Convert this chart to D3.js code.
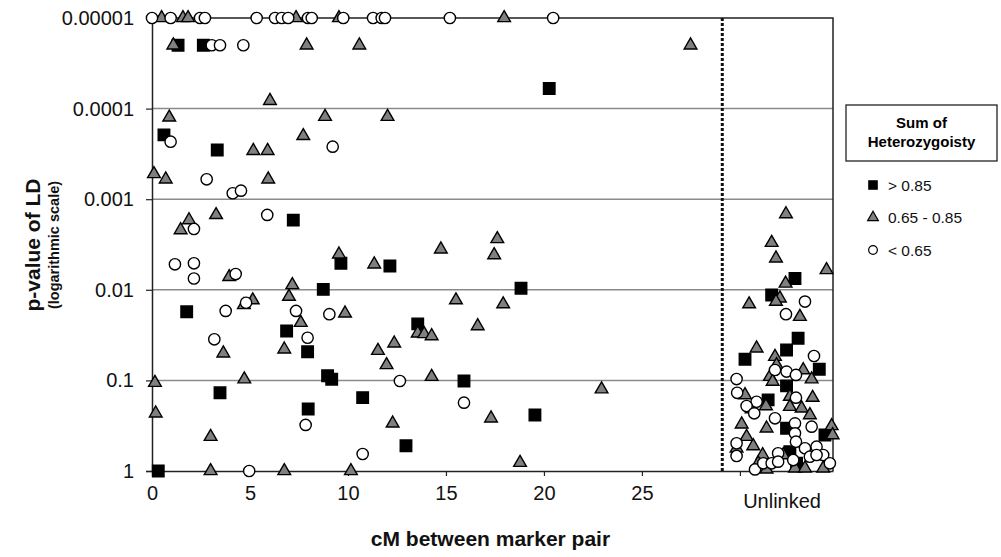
<!DOCTYPE html>
<html>
<head>
<meta charset="utf-8">
<script src="https://cdn.jsdelivr.net/npm/d3@7"></script>
<style>
  body { margin: 0; background: #fff; }
  svg { font-family: Arial, "Liberation Sans", sans-serif; }
</style>
</head>
<body>
<script>
// ---- data: cM distance and LD p-value per heterozygosity group ----
// linked pairs
const highCM = [1.33, 2.62, 20.27, 0.61, 3.33, 7.21, 9.64, 12.14, 18.83, 8.74, 1.77, 13.56, 6.87, 7.94, 8.96, 9.17, 3.47, 10.75, 7.97, 15.92, 19.54, 12.96, 0.32]
const highP = [2e-5, 2e-5, 6e-5, 1.95e-4, 2.86e-4, 1.7e-3, 5.1e-3, 5.46e-3, 9.6e-3, 9.9e-3, 1.75e-2, 2.38e-2, 2.85e-2, 4.82e-2, 8.9e-2, 9.7e-2, 0.137, 0.155, 0.207, 0.1016, 0.241, 0.526, 1]

const midCM = [0.49, 1.58, 1.84, 7.35, 9.54, 17.97, 1.09, 7.89, 10.58, 27.48, 6.02, 0.88, 8.83, 12.02, 7.72, 5.17, 5.90, 0.10, 0.70, 5.93, 3.27, 1.89, 1.46, 3.94, 9.54, 11.34, 7.16, 6.99, 5.14, 4.69, 9.85, 14.74, 17.62, 17.46, 15.51, 17.92, 13.56, 13.89, 14.27, 16.62, 12.36, 11.53, 11.97, 7.59, 3.64, 6.75, 0.15, 4.71, 14.27, 22.94, 0.19, 12.28, 17.30, 2.99, 18.78, 2.99, 6.75, 10.15]
const midP = [1e-5, 1e-5, 1e-5, 1e-5, 1e-5, 1e-5, 2e-5, 2e-5, 2e-5, 2e-5, 8.2e-5, 1.25e-4, 1.23e-4, 1.23e-4, 2e-4, 2.92e-4, 2.92e-4, 5.27e-4, 6.03e-4, 6.03e-4, 1.49e-3, 1.7e-3, 2.19e-3, 7.2e-3, 4.06e-3, 5.23e-3, 8.85e-3, 1.19e-2, 1.3e-2, 1.47e-2, 1.82e-2, 3.57e-3, 2.75e-3, 4.13e-3, 1.3e-2, 1.44e-2, 3.02e-2, 3.07e-2, 3.24e-2, 2.51e-2, 3.9e-2, 4.7e-2, 6.76e-2, 2.31e-2, 5.02e-2, 4.54e-2, 0.106, 9.7e-2, 9.1e-2, 0.125, 0.231, 0.298, 0.262, 0.418, 0.809, 1, 1, 1]

const lowCM = [0, 0.95, 2.45, 2.70, 5.34, 6.28, 6.62, 6.95, 7.96, 8.15, 9.76, 11.28, 11.72, 11.89, 15.20, 20.47, 3.05, 3.47, 4.66, 0.95, 9.22, 2.79, 4.12, 4.54, 2.14, 5.88, 1.17, 2.14, 2.14, 4.27, 4.80, 3.76, 7.35, 9.05, 3.18, 7.94, 12.65, 7.84, 15.92, 10.75, 4.96]
const lowP = [1e-5, 1e-5, 1e-5, 1e-5, 1e-5, 1e-5, 1e-5, 1e-5, 1e-5, 1e-5, 1e-5, 1e-5, 1e-5, 1e-5, 1e-5, 1e-5, 2e-5, 2e-5, 2e-5, 2.32e-4, 2.63e-4, 6.03e-4, 8.6e-4, 8.05e-4, 2.13e-3, 1.49e-3, 5.23e-3, 5.1e-3, 7.5e-3, 6.7e-3, 1.39e-2, 1.71e-2, 1.71e-2, 1.86e-2, 3.52e-2, 3.38e-2, 0.1016, 0.31, 0.176, 0.649, 1]

// unlinked pairs (spread across the "Unlinked" column)
const highUnX = [32.81, 31.62, 32.97, 32.38, 30.26, 34.05, 32.38, 31.44, 32.38, 34.34, 32.55, 32.89]
const highUnP = [7.5e-3, 1.14e-2, 3.43e-2, 4.62e-2, 5.85e-2, 7.54e-2, 0.115, 0.164, 0.338, 0.401, 0.612, 0.822]

const midUnX = [32.35, 31.62, 31.84, 34.42, 32.33, 32.04, 31.84, 30.47, 33.06, 30.85, 31.79, 31.87, 31.53, 31.67, 33.23, 33.66, 30.26, 32.55, 33.71, 30.60, 31.33, 32.55, 33.15, 33.57, 30.09, 31.36, 34.68, 34.73, 30.34, 30.68, 29.83, 32.21, 31.16, 30.93, 32.81, 33.32, 34.25, 31.36]
const midUnP = [1.46e-3, 3.02e-3, 4.49e-3, 6.04e-3, 8.5e-3, 1.24e-2, 1.35e-2, 1.44e-2, 1.98e-2, 4.42e-2, 5.47e-2, 6.76e-2, 9.1e-2, 0.103, 7.68e-2, 9.7e-2, 0.145, 0.151, 0.155, 0.208, 0.192, 0.195, 0.203, 0.241, 0.305, 0.338, 0.318, 0.401, 0.418, 0.53, 0.561, 0.666, 0.666, 0.822, 0.933, 0.933, 0.933, 0.96]

const lowUnX = [33.32, 32.35, 33.78, 31.79, 32.38, 32.86, 29.83, 29.86, 32.86, 30.85, 30.34, 30.73, 31.79, 32.81, 33.66, 32.81, 29.83, 32.86, 33.91, 33.32, 31.95, 29.83, 34.25, 32.72, 33.57, 33.91, 34.59, 30.77, 31.19, 31.62, 31.95]
const lowUnP = [1.35e-2, 1.86e-2, 5.38e-2, 7.68e-2, 8.0e-2, 8.7e-2, 9.66e-2, 0.137, 0.155, 0.172, 0.192, 0.231, 0.262, 0.298, 0.324, 0.384, 0.494, 0.475, 0.539, 0.561, 0.638, 0.682, 0.666, 0.757, 0.695, 0.666, 0.822, 0.96, 0.822, 0.822, 0.789]

const yTicks = [1e-5, 1e-4, 1e-3, 1e-2, 1e-1, 1]
const yTickLabels = ["0.00001", "0.0001", "0.001", "0.01", "0.1", "1"]
const xTicks = [0, 5, 10, 15, 20, 25, 30]
const xTickLabels = ["0", "5", "10", "15", "20", "25", ""]
const unlinkedLabel = "Unlinked"
const unlinkedBoundary = 29.1
const legendLabels = ["> 0.85", "0.65 - 0.85", "< 0.65"]

// ---- layout ----
const width = 1001, height = 557
const plot = { left: 152, right: 833, top: 18, bottom: 471 }

const x = d3.scaleLinear().domain([0, 34.75]).range([plot.left, plot.right])
const y = d3.scaleLog().domain([1e-5, 1]).range([plot.top, plot.bottom])

const svg = d3.select("body").append("svg")
  .attr("width", width)
  .attr("height", height)

// gridlines
svg.append("g")
  .selectAll("line")
  .data(yTicks.slice(1, -1))
  .join("line")
  .attr("x1", plot.left).attr("x2", plot.right)
  .attr("y1", d => y(d)).attr("y2", d => y(d))
  .attr("stroke", "#8a8a8a")
  .attr("stroke-width", 1.5)

// frame (top and right)
svg.append("path")
  .attr("d", `M${plot.left},${plot.top}H${plot.right}V${plot.bottom}`)
  .attr("fill", "none")
  .attr("stroke", "#222")
  .attr("stroke-width", 1.5)

// y axis
const yAxis = svg.append("g")
  .attr("transform", `translate(${plot.left},0)`)
  .call(d3.axisLeft(y).tickValues(yTicks).tickFormat((d, i) => yTickLabels[i]).tickSize(6).tickPadding(12))
yAxis.select(".domain").attr("stroke", "#222").attr("stroke-width", 1.5)
yAxis.selectAll(".tick line").attr("stroke", "#222").attr("stroke-width", 1.2)
yAxis.selectAll(".tick text")
  .attr("font-size", 20)
  .attr("font-family", "Arial, 'Liberation Sans', sans-serif")
  .attr("fill", "#111")

// x axis
const xAxis = svg.append("g")
  .attr("transform", `translate(0,${plot.bottom})`)
  .call(d3.axisBottom(x).tickValues(xTicks).tickFormat((d, i) => xTickLabels[i]).tickSize(5).tickPadding(10).tickSizeOuter(0))
xAxis.select(".domain").attr("stroke", "#222").attr("stroke-width", 1.5)
xAxis.selectAll(".tick line").attr("stroke", "#222").attr("stroke-width", 1.2)
xAxis.selectAll(".tick text")
  .attr("font-size", 20)
  .attr("font-family", "Arial, 'Liberation Sans', sans-serif")
  .attr("fill", "#111")

svg.append("text")
  .attr("x", x(32.15)).attr("y", plot.bottom + 37)
  .attr("text-anchor", "middle")
  .attr("font-size", 20)
  .attr("fill", "#111")
  .text(unlinkedLabel)

// linked / unlinked divider
svg.append("line")
  .attr("x1", x(unlinkedBoundary)).attr("x2", x(unlinkedBoundary))
  .attr("y1", plot.top).attr("y2", plot.bottom)
  .attr("stroke", "#111")
  .attr("stroke-width", 3)
  .attr("stroke-dasharray", "3,2")

// axis titles
svg.append("text")
  .attr("x", (plot.left + plot.right) / 2 - 2).attr("y", 546)
  .attr("text-anchor", "middle")
  .attr("font-size", 21)
  .attr("font-weight", "bold")
  .attr("fill", "#111")
  .text("cM between marker pair")

svg.append("text")
  .attr("transform", "translate(40,245) rotate(-90)")
  .attr("text-anchor", "middle")
  .attr("font-size", 21)
  .attr("font-weight", "bold")
  .attr("fill", "#111")
  .text("p-value of LD")

svg.append("text")
  .attr("transform", "translate(59,245) rotate(-90)")
  .attr("text-anchor", "middle")
  .attr("font-size", 14.5)
  .attr("font-weight", "bold")
  .attr("fill", "#111")
  .text("(logarithmic scale)")

// ---- markers ----
const styles = [
  { type: d3.symbolSquare, size: 132, fill: "#000", stroke: "#000" },
  { type: d3.symbolTriangle, size: 70, fill: "#808080", stroke: "#000" },
  { type: d3.symbolCircle, size: 100, fill: "#fff", stroke: "#000" }
]
const groups = [
  { xs: highCM.concat(highUnX), ps: highP.concat(highUnP), style: styles[0] },
  { xs: midCM.concat(midUnX), ps: midP.concat(midUnP), style: styles[1] },
  { xs: lowCM.concat(lowUnX), ps: lowP.concat(lowUnP), style: styles[2] }
]

groups.forEach(g => {
  const pts = g.xs.map((v, i) => ({ cm: v, p: g.ps[i] }))
  svg.append("g")
    .selectAll("path")
    .data(pts)
    .join("path")
    .attr("transform", d => `translate(${x(d.cm)},${y(d.p)})`)
    .attr("d", d3.symbol().type(g.style.type).size(g.style.size))
    .attr("fill", g.style.fill)
    .attr("stroke", g.style.stroke)
    .attr("stroke-width", 1.4)
})

// ---- legend ----
const legend = svg.append("g")
legend.append("rect")
  .attr("x", 846).attr("y", 105)
  .attr("width", 151).attr("height", 56)
  .attr("fill", "#fff")
  .attr("stroke", "#222")
  .attr("stroke-width", 1.3)
legend.append("text")
  .attr("x", 921.5).attr("y", 128)
  .attr("text-anchor", "middle")
  .attr("font-size", 15)
  .attr("font-weight", "bold")
  .text("Sum of")
legend.append("text")
  .attr("x", 921.5).attr("y", 147)
  .attr("text-anchor", "middle")
  .attr("font-size", 15)
  .attr("font-weight", "bold")
  .text("Heterozygoisty")

const legendSizes = [70, 50, 60]
legendLabels.forEach((label, i) => {
  const ly = 185 + i * 32.5
  legend.append("path")
    .attr("transform", `translate(873,${ly})`)
    .attr("d", d3.symbol().type(styles[i].type).size(legendSizes[i]))
    .attr("fill", styles[i].fill)
    .attr("stroke", "#000")
    .attr("stroke-width", 1.2)
  legend.append("text")
    .attr("x", 888).attr("y", ly + 5.5)
    .attr("font-size", 15.5)
    .attr("fill", "#111")
    .text(label)
})
</script>
</body>
</html>
